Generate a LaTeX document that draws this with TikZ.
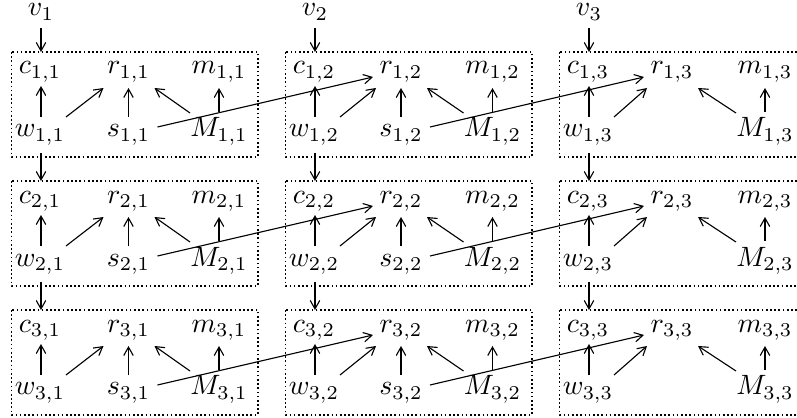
\documentclass[tikz,border=0pt]{standalone}
\usetikzlibrary{arrows.meta}
\begin{document}
\begin{tikzpicture}[x=0.3576pt,y=-0.3576pt,
  lbl/.style={inner sep=0pt, anchor=base},
  arr/.style={-{Straight Barb[length=3pt,width=3.4pt]}, line width=0.4pt},
  frame/.style={line width=0.6pt, dash pattern=on 0.6pt off 0.9pt}]
\useasboundingbox (0,0) rectangle (797,418);
% top labels
\foreach \j/\cx in {1/40,2/314,3/588}{
  \node[lbl] (v\j) at (\cx+1,16) {$v_{\j}$};
}
% cells
\foreach \i/\dy in {1/0,2/129,3/258}{
  \foreach \j/\cx/\rx/\mx in {1/40/128.5/219,2/314/401/492.5,3/588/672/765}{
    \draw[frame] (\cx-28.5,52+\dy) rectangle (\cx+218,157+\dy);
    \node[lbl] (c\i\j) at (\cx,74+\dy) {$c_{\i,\j}$};
    \node[lbl] (r\i\j) at (\rx,74+\dy) {$r_{\i,\j}$};
    \node[lbl] (m\i\j) at (\mx,74+\dy) {$m_{\i,\j}$};
    \node[lbl] (w\i\j) at (\cx,137+\dy) {$w_{\i,\j}$};
    \node[lbl] (M\i\j) at (\mx,137+\dy) {$M_{\i,\j}$};
    \draw[arr] ([shift={(1,-20)}]w\i\j.base) -- ([shift={(1,12)}]c\i\j.base);
    \draw[arr] ([shift={(26,-20)}]w\i\j.base) -- ([shift={(-25,14)}]r\i\j.base);
    \draw[arr] ([shift={(-29,-24)}]M\i\j.base) -- ([shift={(26,14)}]r\i\j.base);
    \draw[arr] ([shift={(0,-25)}]M\i\j.base) -- ([shift={(0,14)}]m\i\j.base);
  }
  \foreach \j/\rx in {1/128.5,2/401}{
    \node[lbl] (s\i\j) at (\rx,137+\dy) {$s_{\i,\j}$};
    \draw[arr] ([shift={(0,-20)}]s\i\j.base) -- ([shift={(0,14)}]r\i\j.base);
  }
}
% s to r of next column
\foreach \i in {1,2,3}{
  \foreach \j/\k in {1/2,2/3}{
    \draw[arr] ([shift={(29,-10)}]s\i\j.base) -- ([shift={(-28,3)}]r\i\k.base);
  }
}
% v to c
\foreach \j in {1,2,3}{
  \draw[arr] ([shift={(0,12)}]v\j.base) -- ([shift={(1,-22)}]c1\j.base);
}
% w to c of next row
\foreach \i/\k in {1/2,2/3}{
  \foreach \j in {1,2,3}{
    \draw[arr] ([shift={(1,16)}]w\i\j.base) -- ([shift={(1,-22)}]c\k\j.base);
  }
}
\end{tikzpicture}
\end{document}
